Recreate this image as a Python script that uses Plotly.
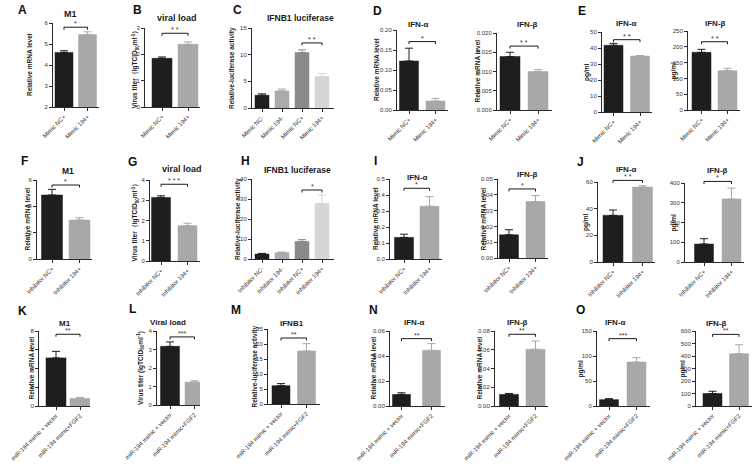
import plotly.graph_objects as go

W, H = 756, 468

# ------------------------------------------------------------------ data
mimic2 = ["Mimic NC+", "Mimic 194+"]
mimic4 = ["Mimic NC-", "Mimic 194-", "Mimic NC+", "Mimic 194+"]
inhib2 = ["Inhibitor NC+", "Inhibitor 194+"]
inhib4 = ["Inhibitor NC-", "Inhibitor 194-", "Inhibitor NC+", "Inhibitor 194+"]
fgf2 = ["miR-194 mimic + vector", "miR-194 mimic+FGF2"]

A_val = [4.6, 5.45];      A_err = [0.08, 0.13]
B_val = [1.85, 2.38];     B_err = [0.05, 0.09]
C_val = [2.4, 3.2, 10.4, 5.9]; C_err = [0.25, 0.35, 0.5, 0.55]
Da_val = [0.1225, 0.0225]; Da_err = [0.032, 0.0065]
Db_val = [0.0139, 0.0100]; Db_err = [0.0011, 0.0005]
Ea_val = [41.7, 35.0];    Ea_err = [1.2, 0.3]
Eb_val = [182.5, 124.5];  Eb_err = [9.5, 7.5]

F_val = [4.86, 2.96];     F_err = [0.43, 0.18]
G_val = [3.14, 1.745];    G_err = [0.08, 0.12]
H_val = [2.5, 3.2, 8.8, 27.8]; H_err = [0.3, 0.3, 0.9, 4.2]
Ia_val = [0.135, 0.33];   Ia_err = [0.02, 0.06]
Ib_val = [0.0147, 0.0357]; Ib_err = [0.0032, 0.0038]
Ja_val = [35.0, 56.2];    Ja_err = [4.0, 1.0]
Jb_val = [91.0, 319.0];   Jb_err = [27.0, 55.0]

K_val = [5.13, 0.81];     K_err = [0.7, 0.11]
L_val = [3.17, 1.24];     L_err = [0.24, 0.07]
M_val = [6.1, 17.7];      M_err = [0.7, 2.4]
Na_val = [0.0093, 0.0446]; Na_err = [0.0013, 0.0053]
Nb_val = [0.0124, 0.0605]; Nb_err = [0.0010, 0.0088]
Oa_val = [12.7, 88.0];    Oa_err = [2.0, 8.7]
Ob_val = [100.0, 419.0];  Ob_err = [18.0, 71.0]

# significance: (bar i, bar j, bracket value, stars)
A_sig = (0, 1, 5.8, "*");      B_sig = (0, 1, 2.8, "* *")
C_sig = (2, 3, 12.2, "* *");   Da_sig = (0, 1, 0.171, "*")
Db_sig = (0, 1, 0.0166, "* *"); Ea_sig = (0, 1, 45.2, "* *")
Eb_sig = (0, 1, 216, "* *")
F_sig = (0, 1, 5.62, "*");     G_sig = (0, 1, 3.79, "* * *")
H_sig = (2, 3, 34.5, "*");     Ia_sig = (0, 1, 0.442, "*")
Ib_sig = (0, 1, 0.0437, "*");  Ja_sig = (0, 1, 61.2, "* *")
Jb_sig = (0, 1, 408, "*")
K_sig = (0, 1, 7.65, "**");    L_sig = (0, 1, 3.68, "***")
M_sig = (0, 1, 22.0, "**");    Na_sig = (0, 1, 0.0539, "**")
Nb_sig = (0, 1, 0.0765, "**"); Oa_sig = (0, 1, 134.7, "***")
Ob_sig = (0, 1, 573, "**")

BLK = "#1e1e1e"; GRY = "#a8a8a8"
cols2 = [BLK, GRY]
cols4 = [BLK, "#ababab", "#8a8a8a", "#d6d6d6"]

T_MRNA = "Relative mRNA level"
T_VIR = "Virus titer\uff08lgTCID<sub>50</sub>ml<sup>-1</sup>\uff09"
T_VIR2 = "Virus titer (lgTCID<sub>50</sub>ml<sup>-1</sup>)"
T_LUC = "Relative-luciferase activity"
T_PG = "pg/ml"

# panel: data + layout (pixel geometry: y-axis x, x-axis right end, top px, bottom px,
# first bar centre, bar spacing, bar width, title pos, y-title x)
panels = [
    dict(cats=mimic2, val=A_val, err=A_err, sig=A_sig, cols=cols2, yr=[2, 6], dt=1, fmt="",
         title="M1", yt=T_MRNA, ax=53, xr=99, top=23, bot=107, c0=64, sp=23.5, bw=18, tp=(70, 14), ytx=30, fs=9),
    dict(cats=mimic2, val=B_val, err=B_err, sig=B_sig, cols=cols2, yr=[0, 3], dt=1, fmt="",
         title="viral load", yt=T_VIR, ax=145, xr=200, top=28, bot=107, c0=162, sp=26, bw=20, tp=(177, 18), ytx=135, fs=9),
    dict(cats=mimic4, val=C_val, err=C_err, sig=C_sig, cols=cols4, yr=[0, 15], dt=5, fmt="",
         title="IFNB1 luciferase", yt=T_LUC, ax=252, xr=334, top=28, bot=108, c0=262, sp=20, bw=14, tp=(300, 18), ytx=232, fs=8.5),
    dict(cats=mimic2, val=Da_val, err=Da_err, sig=Da_sig, cols=cols2, yr=[0, 0.2], dt=0.05, fmt=".2f",
         title="IFN-\u03b1", yt=T_MRNA, ax=397, xr=448, top=30, bot=110, c0=409, sp=26.5, bw=19, tp=(418, 24), ytx=376, fs=8),
    dict(cats=mimic2, val=Db_val, err=Db_err, sig=Db_sig, cols=cols2, yr=[0, 0.02], dt=0.005, fmt=".3f",
         title="IFN-\u03b2", yt=T_MRNA, ax=497, xr=552, top=33, bot=110, c0=510, sp=28, bw=20, tp=(527, 24), ytx=477, fs=8),
    dict(cats=mimic2, val=Ea_val, err=Ea_err, sig=Ea_sig, cols=cols2, yr=[0, 50], dt=10, fmt="",
         title="IFN-\u03b1", yt=T_PG, ax=602, xr=652, top=32, bot=112, c0=613.5, sp=26.5, bw=19, tp=(626, 23), ytx=587, fs=8),
    dict(cats=mimic2, val=Eb_val, err=Eb_err, sig=Eb_sig, cols=cols2, yr=[0, 250], dt=50, fmt="",
         title="IFN-\u03b2", yt=T_PG, ax=688, xr=740, top=31, bot=110, c0=701.5, sp=26, bw=19, tp=(715, 23), ytx=673, fs=8),

    dict(cats=inhib2, val=F_val, err=F_err, sig=F_sig, cols=cols2, yr=[0, 6], dt=2, fmt="",
         title="M1", yt=T_MRNA, ax=37, xr=92, top=180, bot=259, c0=52, sp=27.5, bw=21, tp=(68, 171), ytx=27, fs=8.5),
    dict(cats=inhib2, val=G_val, err=G_err, sig=G_sig, cols=cols2, yr=[0, 4], dt=1, fmt="",
         title="viral load", yt=T_VIR, ax=150, xr=200, top=180, bot=261, c0=161, sp=26.5, bw=19, tp=(182, 169), ytx=135, fs=9),
    dict(cats=inhib4, val=H_val, err=H_err, sig=H_sig, cols=cols4, yr=[0, 40], dt=10, fmt="",
         title="IFNB1 luciferase", yt=T_LUC, ax=252, xr=334, top=179, bot=259, c0=262, sp=20, bw=14, tp=(297, 170), ytx=238, fs=8.5),
    dict(cats=inhib2, val=Ia_val, err=Ia_err, sig=Ia_sig, cols=cols2, yr=[0, 0.5], dt=0.1, fmt=".1f",
         title="IFN-\u03b1", yt=T_MRNA, ax=390, xr=442, top=179, bot=259, c0=404, sp=25.5, bw=19, tp=(417, 177), ytx=375, fs=8),
    dict(cats=inhib2, val=Ib_val, err=Ib_err, sig=Ib_sig, cols=cols2, yr=[0, 0.05], dt=0.01, fmt=".2f",
         title="IFN-\u03b2", yt=T_MRNA, ax=498, xr=548, top=179, bot=258, c0=509, sp=26.5, bw=19, tp=(527, 174), ytx=483, fs=8),
    dict(cats=inhib2, val=Ja_val, err=Ja_err, sig=Ja_sig, cols=cols2, yr=[0, 60], dt=20, fmt="",
         title="IFN-\u03b1", yt=T_PG, ax=598, xr=655, top=182, bot=262, c0=613, sp=29.5, bw=20, tp=(626, 169), ytx=586, fs=8),
    dict(cats=inhib2, val=Jb_val, err=Jb_err, sig=Jb_sig, cols=cols2, yr=[0, 400], dt=100, fmt="",
         title="IFN-\u03b2", yt=T_PG, ax=685, xr=744, top=183, bot=262, c0=704, sp=27.5, bw=19, tp=(717, 170), ytx=673, fs=8),

    dict(cats=fgf2, val=K_val, err=K_err, sig=K_sig, cols=cols2, yr=[0, 8], dt=2, fmt="",
         title="M1", yt=T_MRNA, ax=39, xr=90, top=331, bot=406, c0=56, sp=24, bw=20, tp=(65, 323), ytx=31, fs=8),
    dict(cats=fgf2, val=L_val, err=L_err, sig=L_sig, cols=cols2, yr=[0, 4], dt=1, fmt="",
         title="Viral load", yt=T_VIR2, ax=157, xr=200, top=331, bot=405, c0=170, sp=24.5, bw=19, tp=(168, 322), ytx=140, fs=8),
    dict(cats=fgf2, val=M_val, err=M_err, sig=M_sig, cols=cols2, yr=[0, 25], dt=5, fmt="",
         title="IFNB1", yt=T_LUC, ax=268, xr=320, top=329, bot=404, c0=281, sp=25.5, bw=18, tp=(292, 323), ytx=254, fs=8),
    dict(cats=fgf2, val=Na_val, err=Na_err, sig=Na_sig, cols=cols2, yr=[0, 0.06], dt=0.02, fmt=".2f",
         title="IFN-\u03b1", yt=T_MRNA, ax=390, xr=445, top=331, bot=406, c0=401.5, sp=30, bw=18, tp=(414, 322), ytx=373, fs=8),
    dict(cats=fgf2, val=Nb_val, err=Nb_err, sig=Nb_sig, cols=cols2, yr=[0, 0.08], dt=0.02, fmt=".2f",
         title="IFN-\u03b2", yt=T_MRNA, ax=495, xr=548, top=331, bot=406, c0=509, sp=26.5, bw=19, tp=(517, 322), ytx=479, fs=8),
    dict(cats=fgf2, val=Oa_val, err=Oa_err, sig=Oa_sig, cols=cols2, yr=[0, 150], dt=50, fmt="",
         title="IFN-\u03b1", yt=T_PG, ax=597, xr=650, top=331, bot=406, c0=609, sp=27.5, bw=19, tp=(615, 322), ytx=580, fs=8),
    dict(cats=fgf2, val=Ob_val, err=Ob_err, sig=Ob_sig, cols=cols2, yr=[0, 600], dt=100, fmt="",
         title="IFN-\u03b2", yt=T_PG, ax=696, xr=752, top=331, bot=406, c0=712.5, sp=26.5, bw=19, tp=(716, 323), ytx=682, fs=8),
]

letters = [("A", 22, 10), ("B", 137, 10), ("C", 237, 10), ("D", 377, 11), ("E", 582, 11),
           ("F", 24, 161), ("G", 132, 162), ("H", 245, 161), ("I", 375, 161), ("J", 580, 162),
           ("K", 22, 311), ("L", 132, 309), ("M", 236, 310), ("N", 373, 310), ("O", 580, 310)]

FONT = "Liberation Sans, Arial, sans-serif"
AXC = "#2a2a2a"


def X(p):
    return p / W


def Y(p):
    return 1 - p / H


fig = go.Figure()
shapes = []
annos = []

for i, P in enumerate(panels):
    n = "" if i == 0 else str(i + 1)
    xa, ya = "x" + n, "y" + n
    ncat = len(P["cats"])
    lo = (P["ax"] - P["c0"]) / P["sp"]
    hi = (P["xr"] - P["c0"]) / P["sp"]
    w = P["bw"] / P["sp"]
    for k in range(ncat):
        c = P["cols"][k]
        fig.add_trace(go.Bar(
            x=[P["cats"][k]], y=[P["val"][k]], width=[w], xaxis=xa, yaxis=ya,
            marker=dict(color=c, line=dict(color=c, width=0.5)),
            error_y=dict(type="data", symmetric=False, array=[P["err"][k]], arrayminus=[0],
                         color=c, thickness=1, width=4),
            showlegend=False, hoverinfo="skip"))
    fig.layout["xaxis" + n] = dict(
        domain=[X(P["ax"]), X(P["xr"])], anchor=ya, type="category", automargin=False,
        categoryorder="array", categoryarray=P["cats"], range=[lo, hi],
        showline=True, linecolor=AXC, linewidth=1, ticks="outside", ticklen=3,
        tickcolor=AXC, tickangle=-45, tickfont=dict(size=6, color="#333", family=FONT),
        showgrid=False, zeroline=False, fixedrange=True)
    ytick = dict(tickmode="linear", tick0=P["yr"][0], dtick=P["dt"])
    if P["fmt"]:
        ytick["tickformat"] = P["fmt"]
    fig.layout["yaxis" + n] = dict(
        domain=[Y(P["bot"]), Y(P["top"])], anchor=xa, range=P["yr"], automargin=False,
        showline=True, linecolor=AXC, linewidth=1, ticks="outside", ticklen=3,
        tickcolor=AXC, tickfont=dict(size=6, color="#333", family=FONT),
        showgrid=False, zeroline=False, fixedrange=True, **ytick)

    # title
    annos.append(dict(text="<b>%s</b>" % P["title"], x=X(P["tp"][0]), y=Y(P["tp"][1]),
                      xref="paper", yref="paper", showarrow=False, xanchor="center", yanchor="middle",
                      font=dict(size=P["fs"], color="#1a1a1a", family=FONT)))
    # y title
    annos.append(dict(text="<b>%s</b>" % P["yt"], x=X(P["ytx"]), y=Y((P["top"] + P["bot"]) / 2),
                      xref="paper", yref="paper", showarrow=False, textangle=-90,
                      xanchor="center", yanchor="middle",
                      font=dict(size=6.5, color="#1a1a1a", family=FONT)))
    # significance bracket (mapped through the panel's scales)
    a, b, v, stars = P["sig"]
    r0, r1 = P["yr"]
    py = P["bot"] - (v - r0) / (r1 - r0) * (P["bot"] - P["top"])
    xa_px = P["c0"] + a * P["sp"]
    xb_px = P["c0"] + b * P["sp"]
    shapes.append(dict(type="path", xref="paper", yref="paper",
                       path="M %f %f L %f %f L %f %f L %f %f" % (
                           X(xa_px), Y(py + 2.5), X(xa_px), Y(py), X(xb_px), Y(py), X(xb_px), Y(py + 2.5)),
                       line=dict(color="#1a1a1a", width=1)))
    annos.append(dict(text=stars, x=X((xa_px + xb_px) / 2), y=Y(py + 2), xref="paper", yref="paper",
                      xanchor="center", yanchor="bottom", showarrow=False,
                      font=dict(size=7, color="#333", family=FONT)))

for t, px, py in letters:
    annos.append(dict(text="<b>%s</b>" % t, x=X(px), y=Y(py), xref="paper", yref="paper",
                      xanchor="center", yanchor="middle",
                      showarrow=False, font=dict(size=12, color="#111", family=FONT)))

fig.update_layout(template="none", width=W, height=H, margin=dict(l=0, r=0, t=0, b=0, autoexpand=False),
                  paper_bgcolor="white", plot_bgcolor="white", barmode="overlay",
                  shapes=shapes, annotations=annos, font=dict(family=FONT))

fig.write_html("out.html", config={"displayModeBar": False, "staticPlot": True},
               post_script="document.body.style.margin='0px';document.body.style.padding='0px';")
